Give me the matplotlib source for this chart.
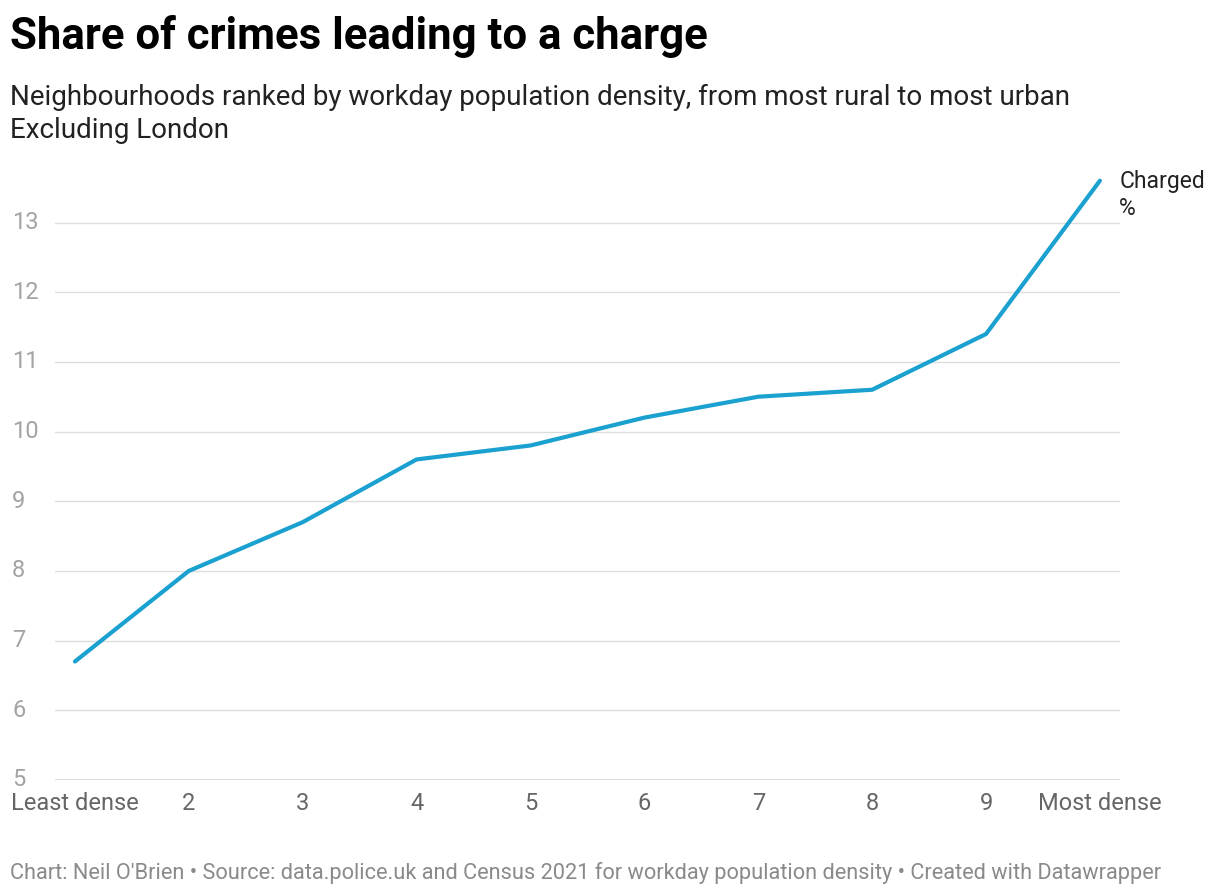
import matplotlib
matplotlib.use("Agg")
import matplotlib.pyplot as plt
import matplotlib.transforms as mtransforms

plt.rcParams['font.family'] = ['Roboto', 'DejaVu Sans']

labels = ["Least dense", "2", "3", "4", "5", "6", "7", "8", "9", "Most dense"]
charged = [6.7, 8.0, 8.7, 9.6, 9.8, 10.2, 10.5, 10.6, 11.4, 13.6]
yticks = [5, 6, 7, 8, 9, 10, 11, 12, 13]

fig = plt.figure(figsize=(12.2, 8.96), dpi=100)
ax = fig.add_axes([0.045, 0.1295, 0.873, 0.6805])

x = list(range(len(charged)))
ax.plot(x, charged, color="#1ba1cf", lw=3, solid_capstyle="round", zorder=3)
ax.set_xlim(-0.176, 9.176)
ax.set_ylim(5, 13.75)

for y in yticks:
    ax.axhline(y, color="#444444" if y == 5 else "#dddddd", lw=1, zorder=1)
ax.set_yticks([])
trans = mtransforms.blended_transform_factory(fig.transFigure, ax.transData)
for y in yticks:
    ax.text(12 / 1220, y, str(y), transform=trans, ha="left", va="center",
            fontsize=17, color="#a3a3a3")

ax.set_xticks(x)
ax.set_xticklabels(labels, fontsize=17, color="#666666")
ax.tick_params(axis="x", length=0, pad=9)
for s in ax.spines.values():
    s.set_visible(False)

ax.text(x[-1] + 0.17, charged[-1] + 0.15, "Charged\n%", fontsize=16.5, color="#222222",
        va="top", ha="left", linespacing=1.2)

fig.text(10 / 1220, 1 - 36 / 896, "Share of crimes leading to a charge", fontsize=31.5,
         fontweight="bold", va="center", ha="left", color="#000000")
fig.text(10 / 1220, 1 - 97 / 896, "Neighbourhoods ranked by workday population density, from most rural to most urban",
         fontsize=20, va="center", ha="left", color="#222222")
fig.text(10 / 1220, 1 - 130 / 896, "Excluding London", fontsize=20, va="center", ha="left", color="#222222")
fig.text(10 / 1220, 1 - 873 / 896,
         "Chart: Neil O'Brien • Source: data.police.uk and Census 2021 for workday population density • Created with Datawrapper",
         fontsize=15.7, va="center", ha="left", color="#8a8a8a")

fig.savefig("out.png", dpi=100, facecolor="white")
